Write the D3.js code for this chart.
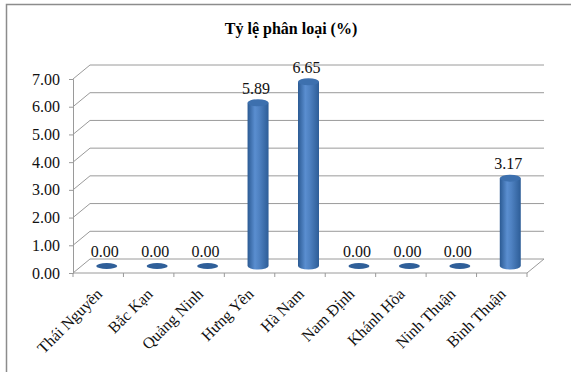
<!DOCTYPE html>
<html>

<head>
	<title>Tỷ lệ phân loại</title>
	<meta charset="utf-8">
	<script src="https://cdn.jsdelivr.net/npm/d3@7"></script>
	<style>
		body { margin: 0; background: white; }
	</style>
</head>

<body>
	<svg id="chart" width="571" height="372"></svg>

	<script>
		var provinces = ['Thái Nguyên', 'Bắc Kạn', 'Quảng Ninh', 'Hưng Yên', 'Hà Nam', 'Nam Định', 'Khánh Hòa', 'Ninh Thuận', 'Bình Thuận'];
		var rates = [0, 0, 0, 5.89, 6.65, 0, 0, 0, 3.17];
		var yTicks = [0, 1, 2, 3, 4, 5, 6, 7];

		var FONT = "'Liberation Serif', 'Times New Roman', serif";
		var svg = d3.select('#chart');

		// depth of the 3d box
		var dx = 17, dy = -14;

		var x = d3.scaleBand()
			.domain(provinces)
			.range([73, 527]);

		var y = d3.scaleLinear()
			.domain([0, 7])
			.range([273, 79]);

		// frame (only top and left edges show in the crop)
		svg.append('path')
			.attr('d', 'M6.5,372V4.5H571')
			.attr('fill', 'none')
			.attr('stroke', '#8c8c8c')
			.attr('stroke-width', 1.5);

		svg.append('text')
			.attr('x', 291)
			.attr('y', 34)
			.attr('text-anchor', 'middle')
			.style('font-family', FONT)
			.style('font-weight', 'bold')
			.style('font-size', '16px')
			.text('Tỷ lệ phân loại (%)');

		var gradient = svg.append('defs')
			.append('linearGradient')
			.attr('id', 'cyl')
			.attr('x1', '0%').attr('x2', '100%');
		gradient.append('stop').attr('offset', '0%').attr('stop-color', '#2b5a93');
		gradient.append('stop').attr('offset', '35%').attr('stop-color', '#5a8ed0');
		gradient.append('stop').attr('offset', '55%').attr('stop-color', '#4f82c2');
		gradient.append('stop').attr('offset', '100%').attr('stop-color', '#2d5d97');

		// back wall gridlines
		svg.selectAll('.grid')
			.data(yTicks)
			.enter()
			.append('path')
			.attr('class', 'grid')
			.attr('d', d => 'M73,' + y(d) + 'L' + (73 + dx) + ',' + (y(d) + dy) + 'H' + (527 + dx))
			.attr('fill', 'none')
			.attr('stroke', '#9a9a9a')
			.attr('stroke-width', 1);

		// floor
		svg.append('path')
			.attr('d', 'M73,' + y(0) + 'H527L' + (527 + dx) + ',' + (y(0) + dy))
			.attr('fill', 'none')
			.attr('stroke', '#9a9a9a')
			.attr('stroke-width', 1);

		// y axis
		var yAxis = d3.axisLeft(y)
			.tickValues(yTicks)
			.tickSize(4)
			.tickPadding(9)
			.tickFormat(d3.format('.2f'));

		var gy = svg.append('g')
			.attr('transform', 'translate(73,0)')
			.call(yAxis);
		gy.select('.domain').attr('stroke', '#9a9a9a');
		gy.selectAll('.tick line').attr('stroke', '#9a9a9a');
		gy.selectAll('.tick text')
			.style('font-family', FONT)
			.style('font-size', '16px')
			.attr('fill', '#111');

		// category ticks along the front floor edge
		svg.selectAll('.xtick')
			.data(d3.range(provinces.length + 1))
			.enter()
			.append('line')
			.attr('class', 'xtick')
			.attr('x1', i => 73 + i * x.step())
			.attr('x2', i => 73 + i * x.step())
			.attr('y1', y(0))
			.attr('y2', y(0) + 4)
			.attr('stroke', '#9a9a9a');

		svg.selectAll('.xlabel')
			.data(provinces)
			.enter()
			.append('text')
			.attr('class', 'xlabel')
			.attr('text-anchor', 'end')
			.attr('transform', d => 'translate(' + (x(d) + x.bandwidth() / 2 + 5) + ',' + (y(0) + 22) + ') rotate(-45)')
			.style('font-family', FONT)
			.style('font-size', '16px')
			.attr('fill', '#111')
			.text(d => d);

		// cylinders
		var r = 10.5, ry = 3.5;
		var base = y(0) + dy / 2;
		var cx = d => x(d.p) + x.bandwidth() / 2 + dx / 2;
		var topY = d => base - (y(0) - y(d.v));
		var data = provinces.map((p, i) => ({ p: p, v: rates[i] }));

		var bars = svg.selectAll('.bar')
			.data(data)
			.enter()
			.append('g')
			.attr('class', 'bar');

		bars.filter(d => d.v > 0)
			.append('path')
			.attr('d', d => 'M' + (cx(d) - r) + ',' + topY(d) + 'V' + base +
				'A' + r + ',' + ry + ' 0 0 0 ' + (cx(d) + r) + ',' + base +
				'V' + topY(d) + 'Z')
			.attr('fill', 'url(#cyl)');

		bars.append('ellipse')
			.attr('cx', cx)
			.attr('cy', topY)
			.attr('rx', r)
			.attr('ry', d => d.v > 0 ? ry : 3)
			.attr('fill', d => d.v > 0 ? '#3d70ae' : '#2f5f99');

		bars.append('text')
			.attr('x', d => cx(d) - 2)
			.attr('y', d => topY(d) - 9)
			.attr('text-anchor', 'middle')
			.style('font-family', FONT)
			.style('font-size', '16px')
			.attr('fill', '#111')
			.text(d => d3.format('.2f')(d.v));
	</script>
</body>

</html>
